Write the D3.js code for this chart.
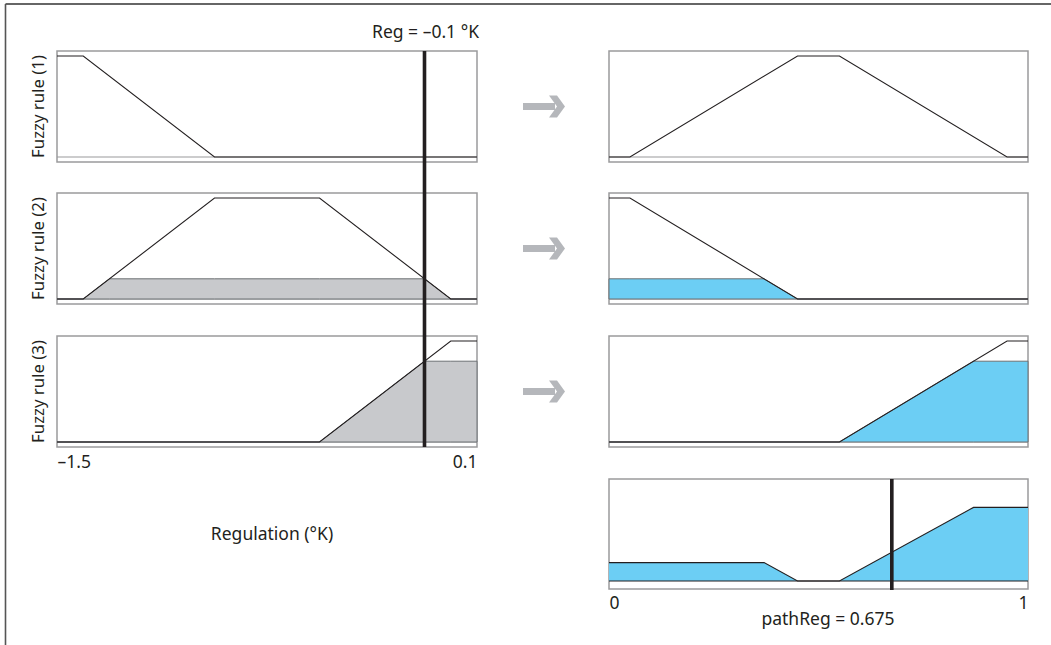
<!DOCTYPE html>
<html>
<head>
<meta charset="utf-8">
<script src="https://cdn.jsdelivr.net/npm/d3@7"></script>
<style>
  html, body { margin: 0; padding: 0; background: #fff; }
  svg { display: block; }
  text { font-family: "Noto Sans", "Open Sans", sans-serif; fill: #231f20; }
</style>
</head>
<body>
<svg id="chart" width="1051" height="645"></svg>
<script>
// ---------- data ----------
const inputDomain = [-1.5, 0.1];
const outputDomain = [0, 1];
const inputTicks = [-1.5, 0.1];
const inputTickLabels = ["\u20131.5", "0.1"];
const outputTicks = [0, 1];
const outputTickLabels = ["0", "1"];
const ruleLabels = ["Fuzzy rule (1)", "Fuzzy rule (2)", "Fuzzy rule (3)"];
const regValue = -0.1;
const pathRegValue = 0.675;
const firingStrengths = [0, 0.2, 0.8];

// membership functions as [x, mu] breakpoints
const rule1Input = [[-1.5, 1], [-1.4, 1], [-0.9, 0], [0.1, 0]];
const rule2Input = [[-1.5, 0], [-1.4, 0], [-0.9, 1], [-0.5, 1], [0.0, 0], [0.1, 0]];
const rule3Input = [[-1.5, 0], [-0.5, 0], [0.0, 1], [0.1, 1]];
const rule1Output = [[0, 0], [0.05, 0], [0.45, 1], [0.55, 1], [0.95, 0], [1, 0]];
const rule2Output = [[0, 1], [0.05, 1], [0.45, 0], [1, 0]];
const rule3Output = [[0, 0], [0.55, 0], [0.95, 1], [1, 1]];
const aggregateOutput = [[0, 0.2], [0.37, 0.2], [0.45, 0], [0.55, 0], [0.87, 0.8], [1, 0.8]];

const inputRules = [rule1Input, rule2Input, rule3Input];
const outputRules = [rule1Output, rule2Output, rule3Output];

// ---------- layout ----------
const svg = d3.select("#chart");
const leftX = [57, 477];
const rightX = [609, 1028];
const panelTops = [51, 193, 336];
const panelH = 111;
const inset = 5;
const fontSize = 17.5;

const xIn = d3.scaleLinear().domain(inputDomain).range(leftX);
const xOut = d3.scaleLinear().domain(outputDomain).range(rightX);

const grayFill = "#c8c9cc";
const blueFill = "#6ccef4";
const boxStroke = "#9a9a9c";

// outer frame
svg.append("line").attr("x1", 5.5).attr("x2", 1051).attr("y1", 4).attr("y2", 4)
  .attr("stroke", "#333").attr("stroke-width", 1.5);
svg.append("line").attr("x1", 5.5).attr("x2", 5.5).attr("y1", 4).attr("y2", 645)
  .attr("stroke", "#555").attr("stroke-width", 1.6);

// clip a piecewise-linear function at level c : min(f, c)
function clipAt(pts, c) {
  const out = [];
  for (let i = 0; i < pts.length; i++) {
    const [x, y] = pts[i];
    if (i > 0) {
      const [x0, y0] = pts[i - 1];
      if ((y0 - c) * (y - c) < 0) {
        const t = (c - y0) / (y - y0);
        out.push([x0 + t * (x - x0), c]);
      }
    }
    out.push([x, Math.min(y, c)]);
  }
  return out;
}

function drawPanel(x, top, h, yTop, yBot, fn, level, fillColor, labelText) {
  const g = svg.append("g");
  const y = d3.scaleLinear().domain([0, 1]).range([top + h - yBot, top + yTop]);
  g.append("rect").attr("x", x.range()[0]).attr("y", top)
    .attr("width", x.range()[1] - x.range()[0]).attr("height", h)
    .attr("fill", "#fff").attr("stroke", boxStroke).attr("stroke-width", 1.5);
  g.append("line").attr("x1", x.range()[0]).attr("x2", x.range()[1])
    .attr("y1", y(0)).attr("y2", y(0)).attr("stroke", boxStroke).attr("stroke-width", 1.2);
  if (level > 0) {
    const clipped = clipAt(fn, level);
    const area = d3.area().x(d => x(d[0])).y0(y(0)).y1(d => y(d[1]));
    g.append("path").datum(clipped).attr("d", area)
      .attr("fill", fillColor).attr("stroke", "#6d7174").attr("stroke-width", 1);
  }
  const line = d3.line().x(d => x(d[0])).y(d => y(d[1]));
  g.append("path").datum(fn).attr("d", line)
    .attr("fill", "none").attr("stroke", "#231f20").attr("stroke-width", 1.1);
  if (labelText) {
    g.append("text")
      .attr("transform", `translate(44,${top + h / 2}) rotate(-90)`)
      .attr("text-anchor", "middle").attr("font-size", 16.8).text(labelText);
  }
  return y;
}

inputRules.forEach((fn, i) => {
  drawPanel(xIn, panelTops[i], panelH, inset, inset, fn, firingStrengths[i], grayFill, ruleLabels[i]);
  drawPanel(xOut, panelTops[i], panelH, inset, inset, outputRules[i], firingStrengths[i], blueFill, null);
});

// aggregate panel
const aggTop = 479, aggH = 110;
(function () {
  const g = svg.append("g");
  const y = d3.scaleLinear().domain([0, 1]).range([aggTop + aggH - 8, aggTop + 10]);
  g.append("rect").attr("x", rightX[0]).attr("y", aggTop)
    .attr("width", rightX[1] - rightX[0]).attr("height", aggH)
    .attr("fill", "#fff").attr("stroke", boxStroke).attr("stroke-width", 1.5);
  const area = d3.area().x(d => xOut(d[0])).y0(y(0)).y1(d => y(d[1]));
  g.append("path").datum(aggregateOutput).attr("d", area)
    .attr("fill", blueFill).attr("stroke", "none");
  g.append("line").attr("x1", rightX[0]).attr("x2", rightX[1])
    .attr("y1", y(0)).attr("y2", y(0)).attr("stroke", "#231f20").attr("stroke-width", 1.1);
  const line = d3.line().x(d => xOut(d[0])).y(d => y(d[1]));
  g.append("path").datum(aggregateOutput).attr("d", line)
    .attr("fill", "none").attr("stroke", "#231f20").attr("stroke-width", 1.1);
  g.append("line").attr("x1", xOut(pathRegValue)).attr("x2", xOut(pathRegValue))
    .attr("y1", aggTop).attr("y2", aggTop + aggH + 1)
    .attr("stroke", "#231f20").attr("stroke-width", 3.6);
})();

// Reg line
svg.append("line").attr("x1", xIn(regValue)).attr("x2", xIn(regValue))
  .attr("y1", panelTops[0]).attr("y2", panelTops[2] + panelH)
  .attr("stroke", "#231f20").attr("stroke-width", 3.6);
svg.append("text").attr("x", 479).attr("y", 38).attr("text-anchor", "end")
  .attr("font-size", fontSize).text("Reg = \u20130.1 \u00b0K");

// axes
function tickAxis(scale, ticks, labels, yPos) {
  const ax = d3.axisBottom(scale).tickValues(ticks).tickSize(0).tickPadding(0)
    .tickFormat((d, i) => labels[i]);
  const g = svg.append("g").attr("transform", `translate(0,${yPos})`).call(ax);
  g.select(".domain").remove();
  g.selectAll("text").attr("font-size", fontSize).attr("font-family", '"Noto Sans", sans-serif')
    .attr("fill", "#231f20").attr("dy", 0)
    .attr("text-anchor", (d, i) => i === 0 ? "start" : "end");
  return g;
}
tickAxis(xIn, inputTicks, inputTickLabels, 468);
tickAxis(xOut, outputTicks, outputTickLabels, 609);

svg.append("text").attr("x", 272).attr("y", 540).attr("text-anchor", "middle")
  .attr("font-size", fontSize).text("Regulation (\u00b0K)");
svg.append("text").attr("x", 828).attr("y", 625).attr("text-anchor", "middle")
  .attr("font-size", fontSize).text("pathReg = 0.675");

// arrows
const arrowColor = "#b5b7bb";
panelTops.forEach(t => {
  const cy = t + panelH / 2;
  const g = svg.append("g").attr("transform", `translate(523,${cy})`);
  g.append("path")
    .attr("d", "M0,-3.5 L32,-3.5 L32,3.5 L0,3.5 Z M26,-11 L34,-11 L42,0 L34,11 L26,11 L34,0 Z")
    .attr("fill", arrowColor);
});
</script>
</body>
</html>
